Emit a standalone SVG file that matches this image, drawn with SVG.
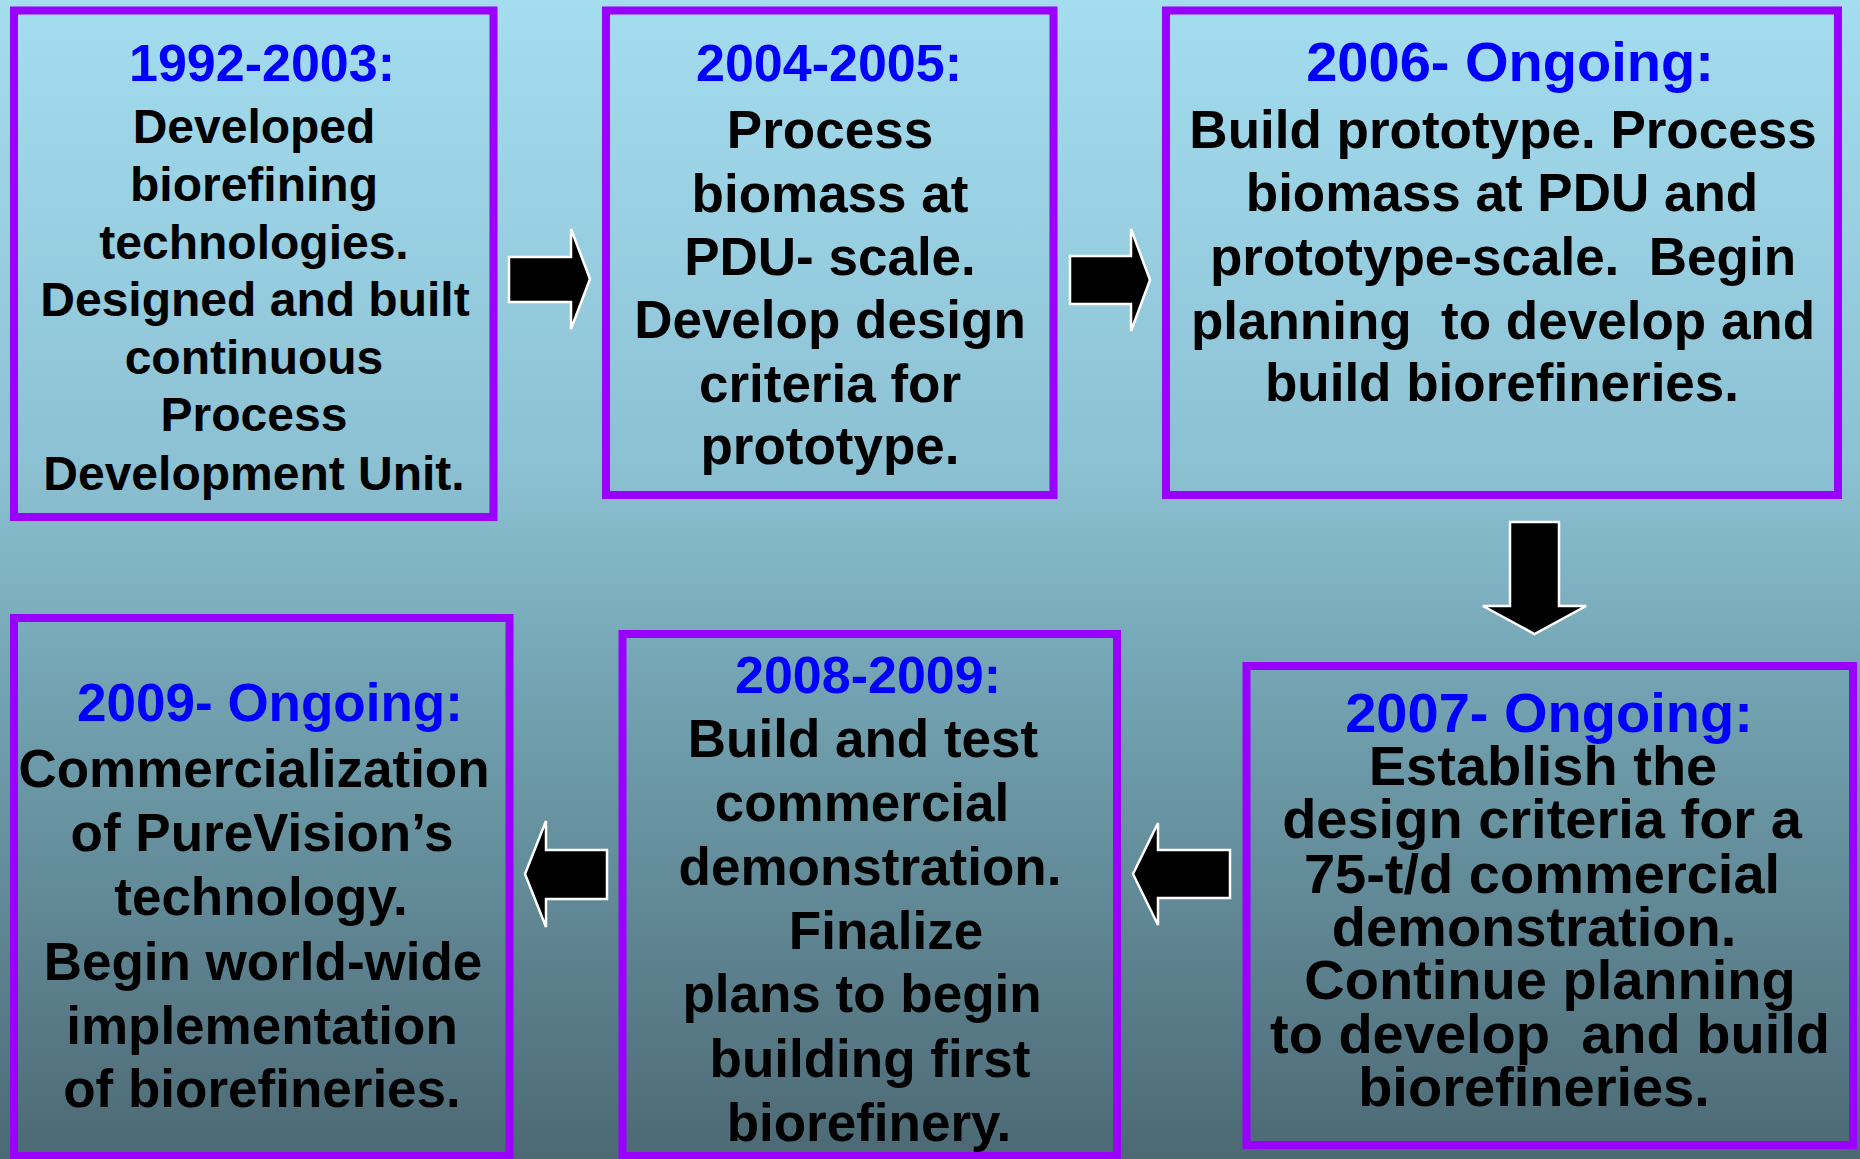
<svg xmlns="http://www.w3.org/2000/svg" width="1860" height="1159" viewBox="0 0 1860 1159">
<defs>
<linearGradient id="bg" x1="0" y1="0" x2="0" y2="1">
<stop offset="0" stop-color="#A4DDF0"/>
<stop offset="0.4" stop-color="#8CC1D3"/>
<stop offset="0.6" stop-color="#72A2B1"/>
<stop offset="1" stop-color="#4C6974"/>
</linearGradient>
<style>
.box{fill:none;stroke:#9900FF;stroke-width:8}
.yr{font-family:"Liberation Sans",Arial,sans-serif;font-weight:bold;fill:#0000FF;text-anchor:middle}
.tx{font-family:"Liberation Sans",Arial,sans-serif;font-weight:bold;fill:#000;text-anchor:middle}
.arr{fill:#000;stroke:#fff;stroke-width:2.5;stroke-linejoin:miter}
</style>
</defs>
<rect x="0" y="0" width="1860" height="1159" fill="url(#bg)"/>

<g id="connectors">
<polygon class="arr" points="509,257 571,257 571,229 590,279 571,329 571,302 509,302"/>
<polygon class="arr" points="1070,256 1131,256 1131,229 1150,280 1131,331 1131,304 1070,304"/>
<polygon class="arr" points="1510,522 1559,522 1559,606 1586,606 1534.5,634 1483,606 1510,606"/>
<polygon class="arr" points="1230,850 1158,850 1158,823 1133,874 1158,925 1158,898 1230,898"/>
<polygon class="arr" points="607,850 546,850 546,821 525,874 546,927 546,899 607,899"/>
</g>

<g id="node1">
<rect class="box" x="14" y="10.5" width="479.5" height="506.5"/>
<text class="yr" font-size="52" x="262" y="81">1992-2003:</text>
<g class="tx" font-size="48">
<text class="tx" x="254" y="143">Developed</text>
<text class="tx" x="254" y="201">biorefining</text>
<text class="tx" x="254" y="259">technologies.</text>
<text class="tx" x="255" y="316">Designed and built</text>
<text class="tx" x="254" y="374">continuous</text>
<text class="tx" x="254" y="431">Process</text>
<text class="tx" x="254" y="490">Development Unit.</text>
</g>
</g>

<g id="node2">
<rect class="box" x="606" y="10.5" width="447.5" height="484.5"/>
<text class="yr" font-size="52" x="829" y="81">2004-2005:</text>
<g font-size="53">
<text class="tx" x="830" y="148">Process</text>
<text class="tx" x="830" y="212">biomass at</text>
<text class="tx" x="830" y="275">PDU- scale.</text>
<text class="tx" x="830" y="338">Develop design</text>
<text class="tx" x="830" y="402">criteria for</text>
<text class="tx" x="830" y="464">prototype.</text>
</g>
</g>

<g id="node3">
<rect class="box" x="1166" y="10.5" width="672" height="484.5"/>
<text class="yr" font-size="56" x="1510" y="81">2006- Ongoing:</text>
<g font-size="53">
<text class="tx" x="1503" y="148">Build prototype. Process</text>
<text class="tx" x="1502" y="211">biomass at PDU and</text>
<text class="tx" x="1503" y="275" xml:space="preserve">prototype-scale.  Begin</text>
<text class="tx" x="1503" y="339" xml:space="preserve">planning  to develop and</text>
<text class="tx" x="1502" y="401">build biorefineries.</text>
</g>
</g>

<g id="node4">
<rect class="box" x="1246.5" y="666" width="606.5" height="479"/>
<text class="yr" font-size="56" x="1549" y="732">2007- Ongoing:</text>
<g font-size="56">
<text class="tx" x="1543" y="785">Establish the</text>
<text class="tx" x="1542" y="838">design criteria for a</text>
<text class="tx" x="1542" y="893">75-t/d commercial</text>
<text class="tx" x="1534" y="946">demonstration.</text>
<text class="tx" x="1550" y="999">Continue planning</text>
<text class="tx" x="1550" y="1053" xml:space="preserve">to develop  and build</text>
<text class="tx" x="1534" y="1106">biorefineries.</text>
</g>
</g>

<g id="node5">
<rect class="box" x="622.5" y="634" width="494.5" height="522"/>
<text class="yr" font-size="52" x="868" y="693">2008-2009:</text>
<g font-size="53">
<text class="tx" x="863" y="757">Build and test</text>
<text class="tx" x="862" y="821">commercial</text>
<text class="tx" x="870" y="885">demonstration.</text>
<text class="tx" x="886" y="949">Finalize</text>
<text class="tx" x="862" y="1012">plans to begin</text>
<text class="tx" x="870" y="1077">building first</text>
<text class="tx" x="869" y="1141">biorefinery.</text>
</g>
</g>

<g id="node6">
<rect class="box" x="14" y="618" width="495.5" height="538"/>
<text class="yr" font-size="53" x="270" y="721">2009- Ongoing:</text>
<g font-size="53">
<text class="tx" x="254" y="787">Commercialization</text>
<text class="tx" x="262" y="851">of PureVision’s</text>
<text class="tx" x="261" y="915">technology.</text>
<text class="tx" x="263" y="980">Begin world-wide</text>
<text class="tx" x="262" y="1044">implementation</text>
<text class="tx" x="262" y="1107">of biorefineries.</text>
</g>
</g>
</svg>
